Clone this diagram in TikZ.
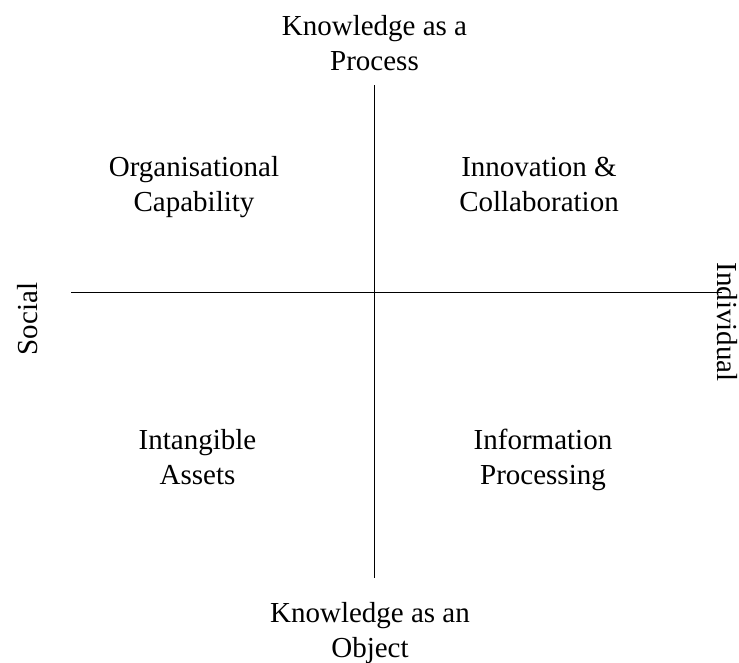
\documentclass[tikz,border=0pt]{standalone}
\usepackage{fontspec}
\setmainfont{Liberation Serif}
\begin{document}
\begin{tikzpicture}[x=1pt,y=-1pt,
  lbl/.style={align=center,inner sep=0pt,anchor=base,font=\fontsize{29}{35}\selectfont},
  axis/.style={line width=0.8pt,black}]
\useasboundingbox (0,0) rectangle (739,662);
\coordinate (top) at (374,85);
\coordinate (bot) at (374,578);
\coordinate (left) at (71,292);
\coordinate (right) at (722,292);
\draw[axis] (top) -- (bot);
\draw[axis] (left) -- (right);
\node[lbl] (kp) at (374.5,70) {Knowledge as a\\Process};
\node[lbl] (ko) at (370,657) {Knowledge as an\\Object};
\node[lbl,rotate=90] (soc) at (37,319) {Social};
\node[lbl,rotate=-90] (ind) at (717,322) {Individual};
\node[lbl] (oc) at (194,211) {Organisational\\Capability};
\node[lbl] (ic) at (539,211) {Innovation \&\\Collaboration};
\node[lbl] (ia) at (197.5,484) {Intangible\\Assets};
\node[lbl] (ip) at (543,484) {Information\\Processing};
\end{tikzpicture}
\end{document}
